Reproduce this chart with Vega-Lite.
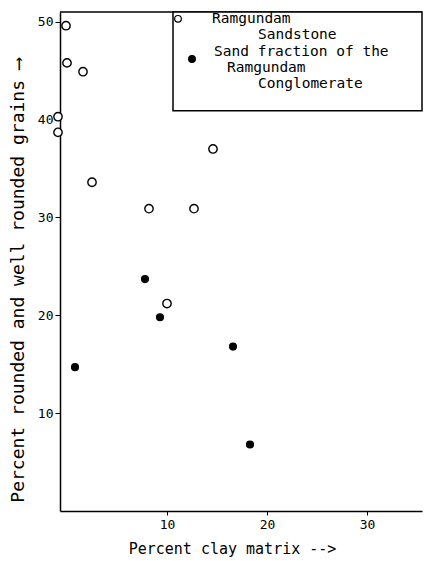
{
  "$schema": "https://vega.github.io/schema/vega-lite/v6.json",
  "autosize": "none",
  "width": 362,
  "height": 499,
  "padding": {"left": 60, "top": 12, "right": 4, "bottom": 50},
  "background": "white",
  "config": {"view": {"stroke": null}, "font": "DejaVu Sans Mono"},
  "datasets": {
    "pts": [
      {"clay": -0.1, "rounded": 49.6, "group": "Ramgundam Sandstone"},
      {"clay": 0.0, "rounded": 45.8, "group": "Ramgundam Sandstone"},
      {"clay": 1.6, "rounded": 44.9, "group": "Ramgundam Sandstone"},
      {"clay": -0.9, "rounded": 40.3, "group": "Ramgundam Sandstone"},
      {"clay": -0.9, "rounded": 38.7, "group": "Ramgundam Sandstone"},
      {"clay": 2.5, "rounded": 33.6, "group": "Ramgundam Sandstone"},
      {"clay": 14.6, "rounded": 37.0, "group": "Ramgundam Sandstone"},
      {"clay": 8.2, "rounded": 30.9, "group": "Ramgundam Sandstone"},
      {"clay": 12.7, "rounded": 30.9, "group": "Ramgundam Sandstone"},
      {"clay": 10.0, "rounded": 21.2, "group": "Ramgundam Sandstone"},
      {"clay": 7.8, "rounded": 23.7, "group": "Sand fraction of the Ramgundam Conglomerate"},
      {"clay": 9.3, "rounded": 19.8, "group": "Sand fraction of the Ramgundam Conglomerate"},
      {"clay": 0.8, "rounded": 14.7, "group": "Sand fraction of the Ramgundam Conglomerate"},
      {"clay": 16.6, "rounded": 16.8, "group": "Sand fraction of the Ramgundam Conglomerate"},
      {"clay": 18.3, "rounded": 6.8, "group": "Sand fraction of the Ramgundam Conglomerate"}
    ],
    "legendText": [
      {"x": 14.5, "y": 50.3, "label": "Ramgundam"},
      {"x": 19.1, "y": 48.7, "label": "Sandstone"},
      {"x": 14.7, "y": 46.9, "label": "Sand fraction of the"},
      {"x": 16.0, "y": 45.3, "label": "Ramgundam"},
      {"x": 19.1, "y": 43.6, "label": "Conglomerate"}
    ],
    "legendBox": [{"x": 10.6, "x2": 35.5, "y": 40.9, "y2": 51}],
    "legendSym": [
      {"x": 11.1, "y": 50.3, "group": "Ramgundam Sandstone"},
      {"x": 12.5, "y": 46.2, "group": "Sand fraction of the Ramgundam Conglomerate"}
    ],
    "topLine": [{"y": 51}]
  },
  "layer": [
    {
      "data": {"name": "topLine"},
      "mark": {"type": "rule", "color": "black", "strokeWidth": 1.5},
      "encoding": {"y": {"field": "y", "type": "quantitative", "scale": {"domain": [0, 51], "nice": false, "zero": false}}}
    },
    {
      "data": {"name": "legendBox"},
      "mark": {"type": "rect", "fill": "white", "stroke": "black", "strokeWidth": 1.5},
      "encoding": {
        "x": {"field": "x", "type": "quantitative"},
        "x2": {"field": "x2"},
        "y": {"field": "y", "type": "quantitative"},
        "y2": {"field": "y2"}
      }
    },
    {
      "data": {"name": "pts"},
      "mark": {"type": "point", "strokeWidth": 1.4, "clip": false},
      "encoding": {
        "x": {
          "field": "clay", "type": "quantitative",
          "scale": {"domain": [-0.7, 35.5], "nice": false, "zero": false},
          "axis": {
            "title": "Percent clay matrix -->",
            "values": [10, 20, 30],
            "grid": false,
            "domainColor": "black", "domainWidth": 1.5,
            "tickColor": "black", "tickSize": 4,
            "labelColor": "black", "labelFont": "DejaVu Sans Mono", "labelFontSize": 13,
            "labelPadding": 3,
            "titleColor": "black", "titleFont": "DejaVu Sans Mono", "titleFontSize": 15, "titleFontWeight": "normal",
            "titleX": 172, "titleY": 37, "titleBaseline": "middle"
          }
        },
        "y": {
          "field": "rounded", "type": "quantitative",
          "scale": {"domain": [0, 51], "nice": false, "zero": false},
          "axis": {
            "title": "Percent rounded and well rounded grains ⟶",
            "values": [10, 20, 30, 40, 50],
            "grid": false,
            "domainColor": "black", "domainWidth": 1.5,
            "tickColor": "black", "tickSize": 5,
            "labelColor": "black", "labelFont": "DejaVu Sans Mono", "labelFontSize": 13,
            "labelPadding": 2,
            "titleColor": "black", "titleFont": "DejaVu Sans Mono", "titleFontSize": 18, "titleFontWeight": "normal",
            "titleX": -42, "titleY": 268, "titleBaseline": "middle"
          }
        },
        "shape": {"value": "circle"},
        "fill": {
          "field": "group", "type": "nominal",
          "scale": {"domain": ["Ramgundam Sandstone", "Sand fraction of the Ramgundam Conglomerate"], "range": ["white", "black"]},
          "legend": null
        },
        "color": {"value": "black"},
        "size": {
          "field": "group", "type": "nominal",
          "scale": {"domain": ["Ramgundam Sandstone", "Sand fraction of the Ramgundam Conglomerate"], "range": [70, 45]},
          "legend": null
        },
        "opacity": {"value": 1}
      }
    },
    {
      "data": {"name": "legendSym"},
      "mark": {"type": "point", "strokeWidth": 1.2, "opacity": 1},
      "encoding": {
        "x": {"field": "x", "type": "quantitative"},
        "y": {"field": "y", "type": "quantitative"},
        "shape": {"value": "circle"},
        "color": {"value": "black"},
        "fill": {
          "field": "group", "type": "nominal",
          "scale": {"domain": ["Ramgundam Sandstone", "Sand fraction of the Ramgundam Conglomerate"], "range": ["white", "black"]},
          "legend": null
        },
        "size": {"value": 45}
      }
    },
    {
      "data": {"name": "legendText"},
      "mark": {"type": "text", "align": "left", "baseline": "middle", "font": "DejaVu Sans Mono", "fontSize": 14.5, "color": "black"},
      "encoding": {
        "x": {"field": "x", "type": "quantitative"},
        "y": {"field": "y", "type": "quantitative"},
        "text": {"field": "label"}
      }
    }
  ]
}
